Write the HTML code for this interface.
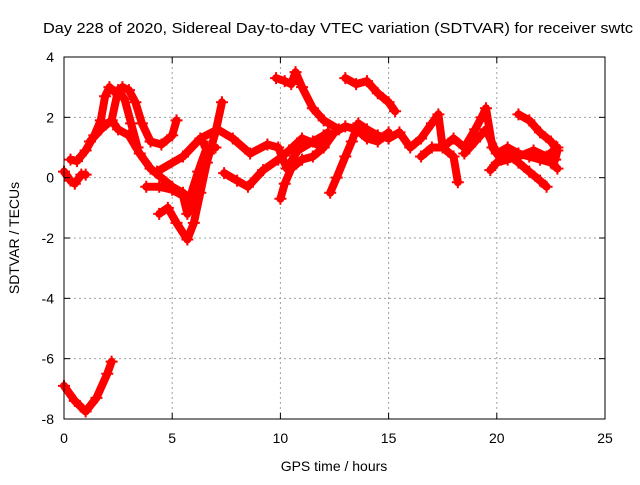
<!DOCTYPE html>
<html><head><meta charset="utf-8"><style>
body{margin:0;background:#fff;width:640px;height:480px;overflow:hidden}
svg{font-family:"Liberation Sans",sans-serif}
</style></head><body>
<svg id="chart" width="640" height="480">
<text x="43" y="33" font-size="15" textLength="590" lengthAdjust="spacingAndGlyphs" fill="#000">Day 228 of 2020, Sidereal Day-to-day VTEC variation (SDTVAR) for receiver swtc</text>
<g id="grid"></g>
<g id="series"></g>
<rect x="64" y="57" width="541" height="362" fill="none" stroke="#000" stroke-width="1"/>
<g id="ticks"></g>
<text x="334" y="471" font-size="14" text-anchor="middle">GPS time / hours</text>
<text transform="translate(19,238) rotate(-90)" font-size="14" text-anchor="middle">SDTVAR / TECUs</text>
</svg>
<script>
const xTicks=[0,5,10,15,20,25];
const yTicks=[-8,-6,-4,-2,0,2,4];
const sA=[[0,-6.9],[0.5,-7.4],[1,-7.75],[1.5,-7.3],[2,-6.5],[2.2,-6.1]];
const sB=[[0,0.2],[0.3,-0.1],[0.5,-0.2],[0.8,0.1],[1,0.1]];
const sC=[[0.3,0.6],[0.6,0.55],[1,0.9],[1.4,1.4],[1.7,1.9],[1.9,2.7],[2.1,3.0],[2.4,2.8],[2.7,3.0],[3.0,2.9],[3.3,2.5],[3.6,1.8],[4.0,1.2],[4.5,1.1],[5.0,1.4],[5.2,1.9]];
const sC2=[[1.2,1.2],[1.7,1.6],[2.2,1.9],[2.5,2.9],[2.8,2.6],[3.1,1.8],[3.4,1.0]];
const sD=[[2.2,1.9],[2.5,1.6],[3.0,1.4],[3.5,0.8],[4.0,0.3],[4.5,0],[5.0,-0.3],[5.5,-0.5],[5.8,-0.7],[6.2,0.2],[6.6,1.0],[7.0,1.0]];
const sF=[[4.4,-1.2],[4.8,-1.0],[5.2,-1.5],[5.7,-2.05],[6.0,-1.5],[6.3,-0.5],[6.6,0.5],[7.0,1.5],[7.3,2.5]];
const sG=[[3.8,-0.3],[4.4,-0.3],[5,-0.4],[5.5,-0.6],[5.7,-1.2],[6.0,-0.6],[6.3,0],[6.7,0.8],[6.4,1.2]];
const sH=[[4.3,0.2],[5.5,0.7],[6.3,1.3],[7.1,1.6],[7.8,1.3],[8.6,0.8],[9.4,1.1],[9.9,1.0],[10.3,0.3],[10.8,0.9],[11.5,1.2],[12,1.4]];
const sI=[[7.4,0.15],[8.0,-0.1],[8.5,-0.3],[9.2,0.25],[9.9,0.6],[10.4,0.9],[11,1.3],[11.7,1.1],[12.2,1.5]];
const sJ=[[10.0,-0.7],[10.2,-0.2],[10.5,0.3],[11,0.6],[11.5,0.7],[12,1.0],[12.5,1.5],[13,1.7],[13.5,1.6],[14,1.3],[14.5,1.2],[15,1.5]];
const sK=[[9.8,3.3],[10.2,3.2],[10.5,3.1],[10.7,3.5],[11.0,3.0],[11.5,2.3],[12,1.9],[12.7,1.6]];
const sL=[[13.0,3.3],[13.5,3.1],[14,3.2],[14.5,2.8],[15,2.5],[15.3,2.2]];
const sM=[[12.3,-0.5],[12.6,0],[13,0.7],[13.3,1.2],[13.6,1.8],[14,1.6],[14.5,1.4],[15,1.3]];
const sN=[[15,1.3],[15.5,1.5],[16,1.0],[16.5,1.3],[17,1.8],[17.3,2.1],[17.5,1.0],[18,0.7],[18.2,-0.15]];
const sO=[[16.5,0.7],[17,1.0],[17.5,1.0],[18,1.3],[18.5,1.0],[19,1.6],[19.3,2.0],[19.5,2.3],[19.8,1.0],[20.2,0.6],[20.5,0.8],[21,0.5],[21.5,0.2],[22,-0.1],[22.3,-0.3]];
const sP=[[18.5,0.8],[19,1.2],[19.5,1.6],[20,0.8],[20.5,1.0],[21,0.8],[21.5,0.7],[22,0.6],[22.5,0.5],[22.8,0.3]];
const sQ=[[21.0,2.1],[21.5,1.9],[22,1.5],[22.5,1.2],[22.8,0.9],[22.7,0.6]];
const sR=[[19.7,0.25],[20,0.5],[20.5,0.6],[21,0.7],[21.7,0.9],[22.3,0.7],[22.8,1.0]];
const allSeries=[sA,sB,sC,sC2,sD,sF,sG,sH,sI,sJ,sK,sL,sM,sN,sO,sP,sQ,sR];
const X0=64,X1=605,Y0=419,Y1=57;
const xs=v=>X0+(v-0)/(25-0)*(X1-X0);
const ys=v=>Y0-(v+8)/(12)*(Y0-Y1);
const NS="http://www.w3.org/2000/svg";
const grid=document.getElementById('grid'),ticks=document.getElementById('ticks'),ser=document.getElementById('series');
function mk(t,a,p){const e=document.createElementNS(NS,t);for(const k in a)e.setAttribute(k,a[k]);p.appendChild(e);return e;}
xTicks.forEach(v=>{const x=xs(v);
 if(v>0&&v<25){const g=mk('line',{x1:x,x2:x,y1:Y1,y2:Y0,stroke:'#a0a0a0','stroke-dasharray':'2,3'},grid);
 
 }
 mk('line',{x1:x,x2:x,y1:Y0,y2:Y0-6,stroke:'#000'},ticks);mk('line',{x1:x,x2:x,y1:Y1,y2:Y1+6,stroke:'#000'},ticks);
 const t=mk('text',{x:x,y:Y0+24,'font-size':14,'text-anchor':'middle'},ticks);t.textContent=v;
 
 });
yTicks.forEach(v=>{const y=ys(v);
 if(v>-8&&v<4){const g=mk('line',{x1:X0,x2:X1,y1:y,y2:y,stroke:'#a0a0a0','stroke-dasharray':'2,3'},grid);
 
 }
 mk('line',{x1:X0,x2:X0+6,y1:y,y2:y,stroke:'#000'},ticks);mk('line',{x1:X1,x2:X1-6,y1:y,y2:y,stroke:'#000'},ticks);
 const t=mk('text',{x:X0-10,y:y+5,'font-size':14,'text-anchor':'end'},ticks);t.textContent=v;
 
 });
allSeries.forEach((s,i)=>{
 const pts=s.map(p=>xs(p[0])+','+ys(p[1])).join(' ');
 const pl=mk('polyline',{points:pts,fill:'none',stroke:'#ff0000','stroke-width':8,'stroke-linejoin':'round','stroke-linecap':'round'},ser);
 
 
 s.forEach(p=>{const x=xs(p[0]),y=ys(p[1]);
  const m=mk('path',{d:`M${x-6},${y}h12M${x},${y-6}v12`,stroke:'#ff0000','stroke-width':2},ser);
  
  });
});
</script>
</body></html>
